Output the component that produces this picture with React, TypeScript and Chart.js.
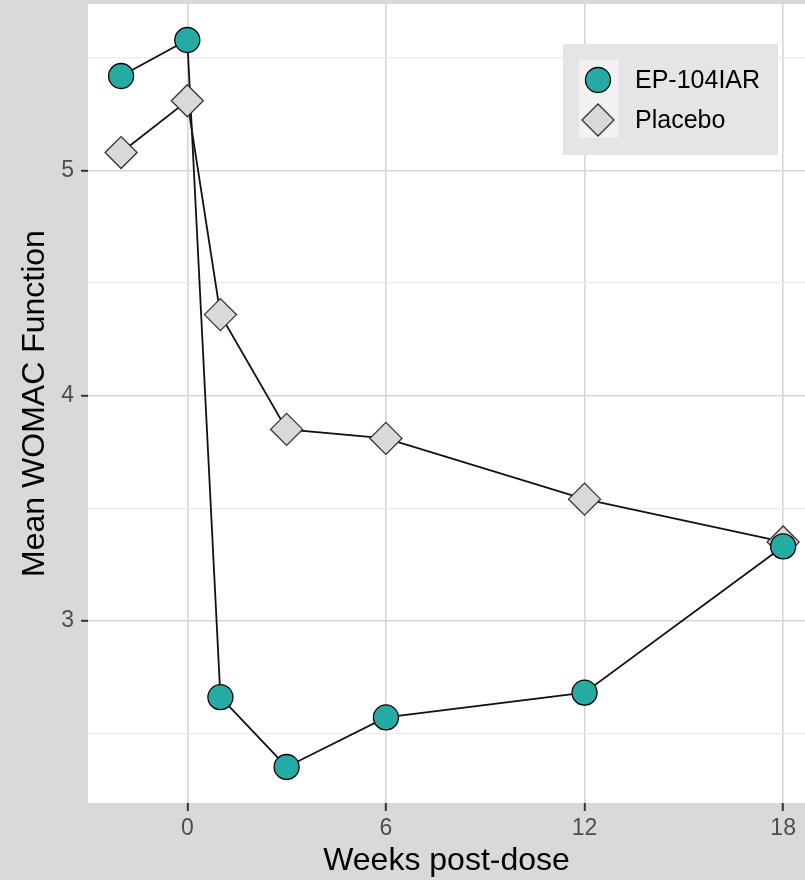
import React, { useEffect, useRef } from "react";
import { Chart, registerables } from "chart.js";

Chart.register(...registerables);

const weeks = [-2, 0, 1, 3, 6, 12, 18];
const epValues = [5.42, 5.58, 2.66, 2.35, 2.57, 2.68, 3.33];
const placeboValues = [5.08, 5.31, 4.36, 3.85, 3.81, 3.54, 3.35];
const xTickValues = [0, 6, 12, 18];
const yTickValues = [2.5, 3, 3.5, 4, 4.5, 5, 5.5];
const seriesNames = ["EP-104IAR", "Placebo"];

const FONT = "'Liberation Sans', Arial, sans-serif";
const TEAL = "#26aba4";
const DIAMOND = "#d9d9d9";

const isMajor = (v: number) => Math.abs(v - Math.round(v)) < 1e-6;

const bgPlugin = {
  id: "bgPanel",
  beforeDraw(chart: any) {
    const { ctx, chartArea, width, height } = chart;
    ctx.save();
    ctx.fillStyle = "#d9d9d9";
    ctx.fillRect(0, 0, width, height);
    ctx.fillStyle = "#ffffff";
    ctx.fillRect(chartArea.left, chartArea.top, chartArea.right - chartArea.left, chartArea.bottom - chartArea.top);
    ctx.restore();
  },
};

const legendPlugin = {
  id: "boxLegend",
  afterDraw(chart: any) {
    const ctx = chart.ctx;
    const bx = 563, by = 44, bw = 215, bh = 111;
    ctx.save();
    ctx.fillStyle = "#e5e5e5";
    ctx.fillRect(bx, by, bw, bh);
    ctx.fillStyle = "#f2f2f2";
    ctx.fillRect(bx + 16, by + 16, 39, 78);
    const rows = [by + 36, by + 76];
    const mx = bx + 35;
    ctx.beginPath();
    ctx.arc(mx, rows[0], 12.5, 0, Math.PI * 2);
    ctx.fillStyle = TEAL;
    ctx.fill();
    ctx.lineWidth = 1.3;
    ctx.strokeStyle = "#000";
    ctx.stroke();
    const r = 16;
    ctx.beginPath();
    ctx.moveTo(mx - r, rows[1]);
    ctx.lineTo(mx, rows[1] - r);
    ctx.lineTo(mx + r, rows[1]);
    ctx.lineTo(mx, rows[1] + r);
    ctx.closePath();
    ctx.fillStyle = DIAMOND;
    ctx.fill();
    ctx.strokeStyle = "#333";
    ctx.stroke();
    ctx.fillStyle = "#000";
    ctx.font = `25px ${FONT}`;
    ctx.textBaseline = "middle";
    ctx.textAlign = "left";
    ctx.fillText(seriesNames[0], bx + 72, rows[0] + 1);
    ctx.fillText(seriesNames[1], bx + 72, rows[1] + 1);
    ctx.restore();
  },
};

export default function App() {
  const ref = useRef<HTMLCanvasElement | null>(null);
  useEffect(() => {
    document.body.style.margin = "0";
    const epPts = weeks.map((w, i) => ({ x: w, y: epValues[i] }));
    const plPts = weeks.map((w, i) => ({ x: w, y: placeboValues[i] }));
    const chart = new Chart(ref.current as HTMLCanvasElement, {
      type: "line",
      data: {
        datasets: [
          {
            label: seriesNames[0],
            data: epPts,
            showLine: false,
            pointStyle: "circle",
            pointRadius: 12.5,
            pointBackgroundColor: TEAL,
            pointBorderColor: "#000",
            pointBorderWidth: 1.3,
            order: 0,
          },
          {
            label: seriesNames[1],
            data: plPts,
            showLine: false,
            pointStyle: "rectRot",
            pointRadius: 16,
            pointBackgroundColor: DIAMOND,
            pointBorderColor: "#333",
            pointBorderWidth: 1.3,
            order: 1,
          },
          {
            label: "ep-line",
            data: epPts,
            borderColor: "#111",
            borderWidth: 1.8,
            pointRadius: 0,
            tension: 0,
            order: 2,
          },
          {
            label: "pl-line",
            data: plPts,
            borderColor: "#111",
            borderWidth: 1.8,
            pointRadius: 0,
            tension: 0,
            order: 3,
          },
        ],
      },
      options: {
        animation: false,
        responsive: false,
        layout: { autoPadding: false, padding: { top: 4, right: 0, left: 0, bottom: 0 } },
        plugins: {
          legend: { display: false },
          tooltip: { enabled: false },
        },
        scales: {
          x: {
            type: "linear",
            min: -3,
            max: 18.66,
            afterBuildTicks: (s: any) => {
              s.ticks = xTickValues.map((v) => ({ value: v }));
            },
            afterFit: (s: any) => {
              s.height = 77;
              s.paddingLeft = 0;
              s.paddingRight = 0;
            },
            grid: {
              color: "#d6d6d6",
              lineWidth: 1.6,
              tickLength: 8,
              tickColor: "#333",
              tickWidth: 2,
            },
            border: { display: false },
            ticks: {
              color: "#4d4d4d",
              font: { family: FONT, size: 23 },
              padding: 4,
              maxRotation: 0,
              callback: (v: any) => String(v),
            },
            title: {
              display: true,
              text: "Weeks post-dose",
              color: "#000",
              font: { family: FONT, size: 32, lineHeight: 1 },
              padding: { top: 0, bottom: 3 },
            },
          },
          y: {
            type: "linear",
            min: 2.19,
            max: 5.74,
            afterBuildTicks: (s: any) => {
              s.ticks = yTickValues.map((v) => ({ value: v }));
            },
            afterFit: (s: any) => {
              s.width = 88;
              s.paddingTop = 0;
              s.paddingBottom = 0;
            },
            grid: {
              color: (c: any) => (isMajor(c.tick.value) ? "#d6d6d6" : "#ebebeb"),
              lineWidth: (c: any) => (isMajor(c.tick.value) ? 1.6 : 1.2),
              tickLength: 7,
              tickColor: (c: any) => (isMajor(c.tick.value) ? "#333" : "rgba(0,0,0,0)"),
              tickWidth: 2,
            },
            border: { display: false },
            ticks: {
              color: "#4d4d4d",
              font: { family: FONT, size: 23 },
              padding: 7,
              callback: (v: any) => (isMajor(Number(v)) ? String(Math.round(Number(v))) : ""),
            },
            title: {
              display: true,
              text: "Mean WOMAC Function",
              color: "#000",
              font: { family: FONT, size: 32, lineHeight: 1 },
              padding: { top: 19, bottom: 0 },
            },
          },
        },
      },
      plugins: [bgPlugin, legendPlugin],
    });
    return () => chart.destroy();
  }, []);
  return (
    <div style={{ position: "absolute", left: 0, top: 0, width: 805, height: 880 }}>
      <canvas ref={ref} width={805} height={880} style={{ width: 805, height: 880, display: "block" }} />
    </div>
  );
}
